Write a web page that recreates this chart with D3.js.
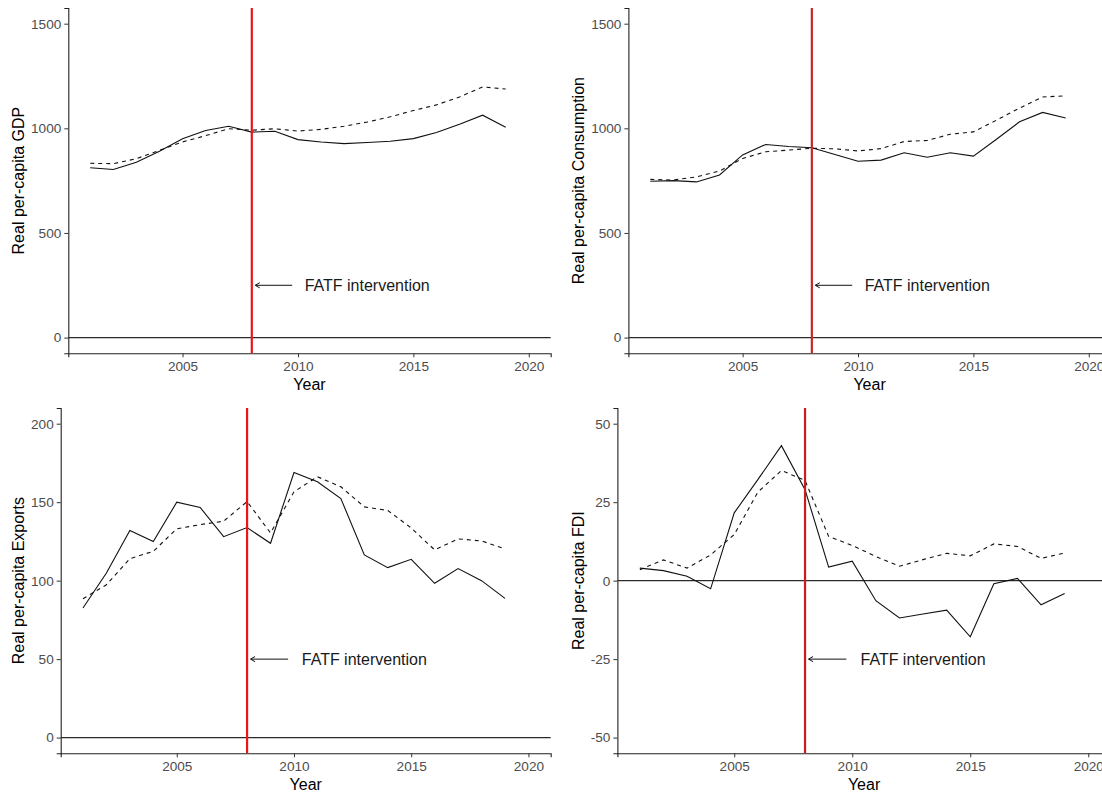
<!DOCTYPE html>
<html>
<head>
<meta charset="utf-8">
<script src="https://cdn.jsdelivr.net/npm/d3@7"></script>
<style>
	body { margin: 0; background: #fff; }
	svg { display: block; font-family: "Liberation Sans", Arial, sans-serif; }
	.tick text { fill: #4d4d4d; font-size: 13.6px; }
	.tick line { stroke: #333; }
	.domain { stroke: #222; stroke-width: 1.1px; }
</style>
</head>
<body>
<script>

// Years for every series
const years = [2001, 2002, 2003, 2004, 2005, 2006, 2007, 2008, 2009, 2010,
	2011, 2012, 2013, 2014, 2015, 2016, 2017, 2018, 2019];
const xTicks = [2005, 2010, 2015, 2020];
const interventionYear = 2008;

// Real series (solid) and synthetic counterparts (dashed)
const gdpReal  = [812, 803, 838, 890, 950, 990, 1010, 982, 986, 946, 935, 927, 932, 938, 951, 980, 1020, 1063, 1005];
const gdpSynth = [833, 831, 855, 895, 935, 965, 998, 991, 998, 987, 995, 1010, 1030, 1055, 1085, 1112, 1150, 1198, 1188];

const consReal  = [747, 750, 744, 777, 873, 923, 913, 907, 875, 843, 848, 883, 862, 883, 867, 948, 1031, 1076, 1049];
const consSynth = [756, 753, 768, 796, 856, 888, 896, 905, 902, 892, 903, 937, 942, 972, 983, 1039, 1097, 1150, 1155];

const expReal  = [82.6, 104.9, 131.9, 124.9, 150, 146.6, 128, 133.8, 123.8, 168.9, 163, 152.3, 116.4, 108.3, 113.6, 98.3, 107.7, 100, 88.7];
const expSynth = [88.5, 97.4, 114, 118.7, 133, 135.7, 137.9, 150.4, 130.4, 156.6, 166.2, 159.8, 147, 144.7, 133.6, 119.6, 126.6, 125.3, 120.2];

const fdiReal  = [4.0, 3.2, 1.4, -2.6, 21.6, 32.2, 43, 29, 4.3, 6.2, -6.4, -11.9, -10.6, -9.4, -17.9, -1, 0.7, -7.7, -4.1];
const fdiSynth = [3.5, 6.6, 4.0, 8.2, 14.7, 28.2, 35.1, 31.9, 14.1, 11.2, 7.7, 4.6, 6.7, 8.7, 7.9, 11.7, 10.9, 7.1, 8.8];

// Axis labels, limits and ticks for each panel
const yTitles = ["Real per-capita GDP", "Real per-capita Consumption", "Real per-capita Exports", "Real per-capita FDI"];
const yLimits = [[0, 1500], [0, 1500], [0, 200], [-50, 50]];
const yTicks = [[0, 500, 1000, 1500], [0, 500, 1000, 1500], [0, 50, 100, 150, 200], [-50, -25, 0, 25, 50]];
const arrowY = [250, 250, 50, -25];
const redColors = ["#e8161b", "#c9262b", "#e8161b", "#c41e23"];

const W = 1102, H = 792;
const panelW = 560, panelH = 400;

let svg = d3.select("body").append("svg")
	.attr("width", W)
	.attr("height", H);

// Plain labels, hyphen for negatives (like R)
let plainFormat = d => String(d);

// Draws one ggplot-like panel
function drawPanel(i, ox, oy, left, realVals, synthVals){
	let margin = {top: 8, right: 9.3, bottom: 46.7, left: left};
	let g = svg.append("g").attr("transform", "translate(" + ox + "," + oy + ")");

	// 5% expansion like ggplot
	let xlo = 2001, xhi = 2020;
	let xr = xhi - xlo;
	let x = d3.scaleLinear()
		.domain([xlo - 0.05 * xr, xhi + 0.05 * xr])
		.range([margin.left, panelW - margin.right]);

	let ylo = yLimits[i][0], yhi = yLimits[i][1];
	let yr = yhi - ylo;
	let y = d3.scaleLinear()
		.domain([ylo - 0.05 * yr, yhi + 0.05 * yr])
		.range([panelH - margin.bottom, margin.top]);

	// Axes
	g.append("g")
		.attr("transform", "translate(0," + (panelH - margin.bottom) + ")")
		.call(d3.axisBottom(x).tickValues(xTicks).tickFormat(plainFormat).tickSizeOuter(0).tickSize(4).tickPadding(4.5));
	g.append("g")
		.attr("transform", "translate(" + margin.left + ",0)")
		.call(d3.axisLeft(y).tickValues(yTicks[i]).tickFormat(plainFormat).tickSizeOuter(0).tickSize(4).tickPadding(3));

	// Zero reference line
	g.append("line")
		.attr("x1", margin.left).attr("x2", panelW - margin.right)
		.attr("y1", y(0)).attr("y2", y(0))
		.attr("stroke", "#2b2b2b").attr("stroke-width", 1.1);

	// Series
	let line = d3.line().x((d, k) => x(years[k])).y(d => y(d));
	g.append("path").datum(synthVals)
		.attr("d", line)
		.attr("fill", "none").attr("stroke", "#111").attr("stroke-width", 1.1)
		.attr("stroke-dasharray", "4,4");
	g.append("path").datum(realVals)
		.attr("d", line)
		.attr("fill", "none").attr("stroke", "#111").attr("stroke-width", 1.1);

	// Intervention line
	g.append("line")
		.attr("x1", x(interventionYear)).attr("x2", x(interventionYear))
		.attr("y1", margin.top).attr("y2", panelH - margin.bottom)
		.attr("stroke", redColors[i]).attr("stroke-width", 2.2);

	// Arrow + label
	let ay = y(arrowY[i]);
	let tip = x(2008.15), tail = x(2009.75);
	g.append("line")
		.attr("x1", tail).attr("x2", tip).attr("y1", ay).attr("y2", ay)
		.attr("stroke", "#111").attr("stroke-width", 1);
	g.append("path")
		.attr("d", "M" + (tip + 4.5) + "," + (ay - 2.6) + "L" + tip + "," + ay + "L" + (tip + 4.5) + "," + (ay + 2.6))
		.attr("fill", "none").attr("stroke", "#111").attr("stroke-width", 1);
	g.append("text")
		.attr("x", x(2013)).attr("y", ay)
		.attr("dy", "0.36em")
		.attr("text-anchor", "middle")
		.attr("font-size", "16px")
		.attr("fill", "#1a1a1a")
		.text("FATF intervention");

	// Axis titles
	g.append("text")
		.attr("x", (margin.left + panelW - margin.right) / 2)
		.attr("y", 390)
		.attr("text-anchor", "middle")
		.attr("font-size", "16px")
		.text("Year");
	g.append("text")
		.attr("transform", "translate(23.5," + ((margin.top + panelH - margin.bottom) / 2) + ") rotate(-90)")
		.attr("text-anchor", "middle")
		.attr("font-size", "16px")
		.text(yTitles[i]);
}

drawPanel(0, 0, 0, 68.3, gdpReal, gdpSynth);
drawPanel(1, 560, 0, 68.4, consReal, consSynth);
drawPanel(2, 0, 400, 60.7, expReal, expSynth);
drawPanel(3, 560, 400, 57.4, fdiReal, fdiSynth);

</script>
</body>
</html>
